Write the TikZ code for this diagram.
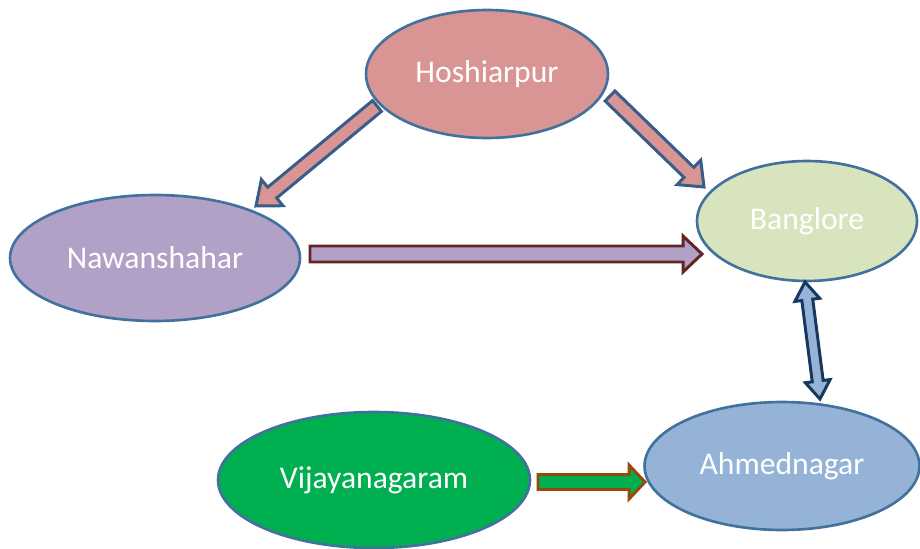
\documentclass[tikz,border=0pt]{standalone}
\usepackage{fontspec}
\setmainfont{Carlito}
\usetikzlibrary{shapes.geometric,calc}

\definecolor{hoshfill}{HTML}{D99594}
\definecolor{nawafill}{HTML}{B2A1C7}
\definecolor{bangfill}{HTML}{D7E4BD}
\definecolor{ahmfill}{HTML}{95B3D7}
\definecolor{vijfill}{HTML}{00B050}
\definecolor{rim}{HTML}{41719C}
\definecolor{rimdark}{HTML}{385D8A}
\definecolor{navy}{HTML}{17375E}
\definecolor{maroon}{HTML}{632523}
\definecolor{rust}{HTML}{984807}

% single block arrow: style, tail, tip, shaft half width, head half width, head length
\newcommand{\blockarrow}[6]{%
  \draw[#1] ($(#2)!#4!90:(#3)$) -- ($($(#3)!#6!(#2)$)!#4!-90:(#2)$)
    -- ($($(#3)!#6!(#2)$)!#5!-90:(#2)$) -- (#3)
    -- ($($(#3)!#6!(#2)$)!#5!90:(#2)$) -- ($($(#3)!#6!(#2)$)!#4!90:(#2)$)
    -- ($(#2)!#4!-90:(#3)$) -- cycle;}
% double-headed block arrow: style, end A, end B, shaft half width, head half width, head length
\newcommand{\dblockarrow}[6]{%
  \draw[#1] (#2) -- ($($(#2)!#6!(#3)$)!#5!90:(#3)$) -- ($($(#2)!#6!(#3)$)!#4!90:(#3)$)
    -- ($($(#3)!#6!(#2)$)!#4!-90:(#2)$) -- ($($(#3)!#6!(#2)$)!#5!-90:(#2)$)
    -- (#3)
    -- ($($(#3)!#6!(#2)$)!#5!90:(#2)$) -- ($($(#3)!#6!(#2)$)!#4!90:(#2)$)
    -- ($($(#2)!#6!(#3)$)!#4!-90:(#3)$) -- ($($(#2)!#6!(#3)$)!#5!-90:(#3)$)
    -- cycle;}

\tikzset{
  city/.style={ellipse, draw=rim, line width=1.5pt, inner sep=0pt,
    text=white, font=\fontsize{18}{21}\selectfont},
  barrow/.style={line width=1.7pt, line join=miter},
}

\begin{document}
\begin{tikzpicture}[x=0.02cm, y=-0.02cm]
  \useasboundingbox (0,0) rectangle (920,548);

  % cities
  \node[city, fill=hoshfill, minimum width=4.84cm, minimum height=2.56cm] (hosh) at (487,74) {Hoshiarpur};
  \node[city, fill=nawafill, minimum width=5.8cm, minimum height=2.52cm] (nawa) at (155,258) {Nawanshahar};
  \node[city, fill=bangfill, minimum width=4.4cm, minimum height=2.4cm] (bang) at (807,221) {Banglore};
  \node[city, fill=ahmfill, minimum width=5.5cm, minimum height=2.56cm] (ahm) at (782,466) {Ahmednagar};
  \node[city, fill=vijfill, minimum width=6.24cm, minimum height=2.72cm] (vij) at (374,480) {Vijayanagaram};

  % arrow end points
  \coordinate (hnT) at (377,106);
  \coordinate (hnH) at (256,206);
  \coordinate (hbT) at (610,96);
  \coordinate (hbH) at (704,187);
  \coordinate (nbT) at (310,254);
  \coordinate (nbH) at (702,254);
  \coordinate (baA) at (805,282);
  \coordinate (baB) at (820,399);
  \coordinate (vaT) at (538,482);
  \coordinate (vaH) at (645,482);

  % connectors
  \blockarrow{barrow, draw=rimdark, fill=hoshfill}{hnT}{hnH}{0.14cm}{0.34cm}{0.42cm}
  \blockarrow{barrow, draw=rimdark, fill=hoshfill}{hbT}{hbH}{0.14cm}{0.34cm}{0.42cm}
  \blockarrow{barrow, draw=maroon, fill=nawafill}{nbT}{nbH}{0.16cm}{0.36cm}{0.38cm}
  \dblockarrow{barrow, draw=navy, fill=ahmfill}{baA}{baB}{0.11cm}{0.25cm}{0.36cm}
  \blockarrow{barrow, draw=rust, fill=vijfill}{vaT}{vaH}{0.15cm}{0.34cm}{0.32cm}
\end{tikzpicture}
\end{document}
